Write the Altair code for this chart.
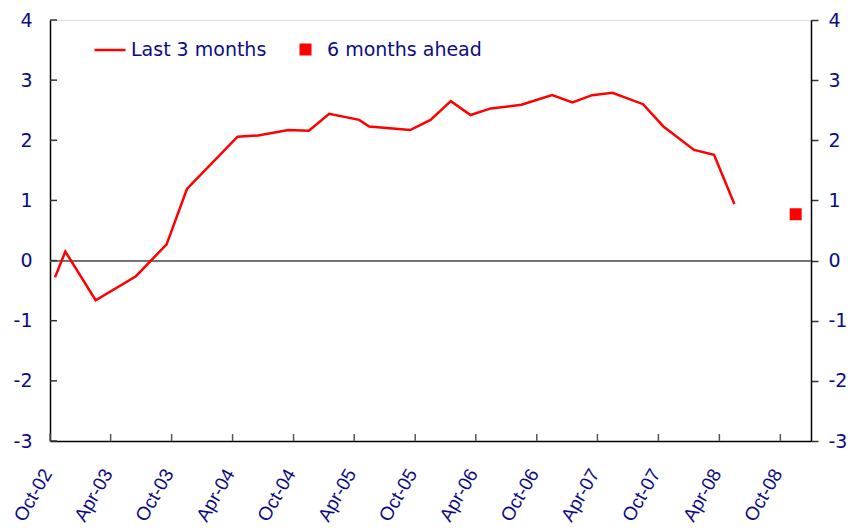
import altair as alt
import pandas as pd

# ---- data ----
line_dates = ["2002-10-16", "2002-11-16", "2003-02-15", "2003-06-16", "2003-09-16",
              "2003-11-16", "2004-04-16", "2004-06-16", "2004-09-16", "2004-11-16",
              "2005-01-16", "2005-04-16", "2005-05-16", "2005-09-16", "2005-11-16",
              "2006-01-16", "2006-03-16", "2006-05-16", "2006-08-16", "2006-11-16",
              "2007-01-16", "2007-03-16", "2007-05-16", "2007-08-16", "2007-10-16",
              "2008-01-16", "2008-03-16", "2008-05-16"]
line_values = [-0.28, 0.15, -0.66, -0.26, 0.27,
               1.19, 2.06, 2.08, 2.17, 2.16,
               2.44, 2.34, 2.23, 2.17, 2.34,
               2.65, 2.42, 2.53, 2.59, 2.75,
               2.63, 2.75, 2.79, 2.60, 2.23,
               1.84, 1.76, 0.94]
ahead_dates = ["2008-11-16"]
ahead_values = [0.77]

series_names = ["Last 3 months", "6 months ahead"]
x_tick_dates = ["2002-10-01", "2003-04-01", "2003-10-01", "2004-04-01", "2004-10-01",
                "2005-04-01", "2005-10-01", "2006-04-01", "2006-10-01", "2007-04-01",
                "2007-10-01", "2008-04-01", "2008-10-01"]
y_ticks = [-3, -2, -1, 0, 1, 2, 3, 4]

W, H = 761, 421
NAVY = "#0c0c84"
RED = "#ff0000"
FONT = "DejaVu Sans"
XFONT = "Liberation Sans"

line_df = pd.DataFrame({"date": line_dates, "value": line_values, "series": series_names[0]})
ahead_df = pd.DataFrame({"date": ahead_dates, "value": ahead_values, "series": series_names[1]})
xt_df = pd.DataFrame({"date": x_tick_dates})
yt_df = pd.DataFrame({"value": y_ticks})

x_scale = alt.Scale(type="utc", domain=[alt.DateTime(year=2002, month=10, date=1, utc=True),
                                        alt.DateTime(year=2009, month=1, date=1, utc=True)])
y_scale = alt.Scale(domain=[-3, 4], nice=False, zero=False)

y_label_expr = "(datum.value < 0 ? '-' : '') + abs(datum.value)"

x_axis = alt.Axis(
    values=[alt.DateTime(year=int(d[:4]), month=int(d[5:7]), date=1, utc=True) for d in x_tick_dates],
    labelExpr="utcFormat(datum.value, '%b-%y')",
    title=None, grid=False, ticks=False, tickSize=0,
    labelAngle=-60, labelAlign="right", labelBaseline="middle",
    labelPadding=29, labelOffset=-3, labelFont=XFONT, labelFontSize=19, labelColor=NAVY,
    domainColor="black", domainWidth=1.5, labelOverlap=False, labelFlush=False,
)
y_left = alt.Axis(values=y_ticks, labelExpr=y_label_expr, title=None, grid=False,
                  ticks=False, tickSize=0,
                  labelPadding=18, labelFont=FONT, labelFontSize=19, labelColor=NAVY,
                  domainColor="black", domainWidth=1.5, labelFlush=False)
y_right = alt.Axis(orient="right", values=y_ticks, labelExpr=y_label_expr, title=None,
                   grid=False, ticks=True, tickSize=7, tickColor="#333333", tickWidth=1.5,
                   labelPadding=10, labelFont=FONT, labelFontSize=19, labelColor=NAVY,
                   domainColor="black", domainWidth=1.5, labelFlush=False)

common_legend = dict(title=None, orient="none", direction="horizontal", padding=0,
                     labelFont=FONT, labelFontSize=19, labelColor=NAVY, labelLimit=400)

line = alt.Chart(line_df).mark_line(color=RED, strokeWidth=2.5).encode(
    x=alt.X("date:T", scale=x_scale, axis=x_axis),
    y=alt.Y("value:Q", scale=y_scale, axis=y_left),
    color=alt.Color("series:N", scale=alt.Scale(domain=[series_names[0]], range=[RED]),
                    legend=alt.Legend(legendX=43, legendY=13, symbolType="stroke",
                                      symbolSize=961, symbolStrokeWidth=2.5,
                                      labelOffset=4, **common_legend)),
)

ahead = alt.Chart(ahead_df).mark_point(filled=True, color=RED, opacity=1, size=144).encode(
    x=alt.X("date:T", scale=x_scale, axis=x_axis),
    y=alt.Y("value:Q", scale=y_scale, axis=y_right),
    shape=alt.Shape("series:N", scale=alt.Scale(domain=[series_names[1]], range=["square"]),
                    legend=alt.Legend(legendX=246, legendY=20, symbolSize=144,
                                      symbolFillColor=RED, symbolOpacity=1,
                                      labelOffset=12, **common_legend)),
)

zero = alt.Chart(yt_df).mark_rule(color="#6e6e6e", strokeWidth=1.2).encode(
    y=alt.datum(0, scale=y_scale, axis=None),
)

y_inner_ticks = alt.Chart(yt_df).mark_rule(color="#333333", strokeWidth=1.5).encode(
    y=alt.Y("value:Q", scale=y_scale, axis=None),
    x=alt.value(0), x2=alt.value(7),
)

x_inner_ticks = alt.Chart(xt_df).mark_rule(color="#555555", strokeWidth=1.5).encode(
    x=alt.X("date:T", scale=x_scale, axis=x_axis),
    y=alt.value(H - 7), y2=alt.value(H),
)

chart = alt.layer(zero, y_inner_ticks, x_inner_ticks, line, ahead).resolve_axis(
    y="independent"
).resolve_legend(
    color="independent", shape="independent"
).properties(
    width=W, height=H,
    autosize=alt.AutoSizeParams(type="none"),
    padding={"left": 42, "top": 12, "right": 36, "bottom": 85},
).configure_view(
    stroke="#8c8c8c", strokeWidth=1.5,
).configure(background="white")

chart.save("out.html", embed_options={"renderer": "svg", "actions": False})
